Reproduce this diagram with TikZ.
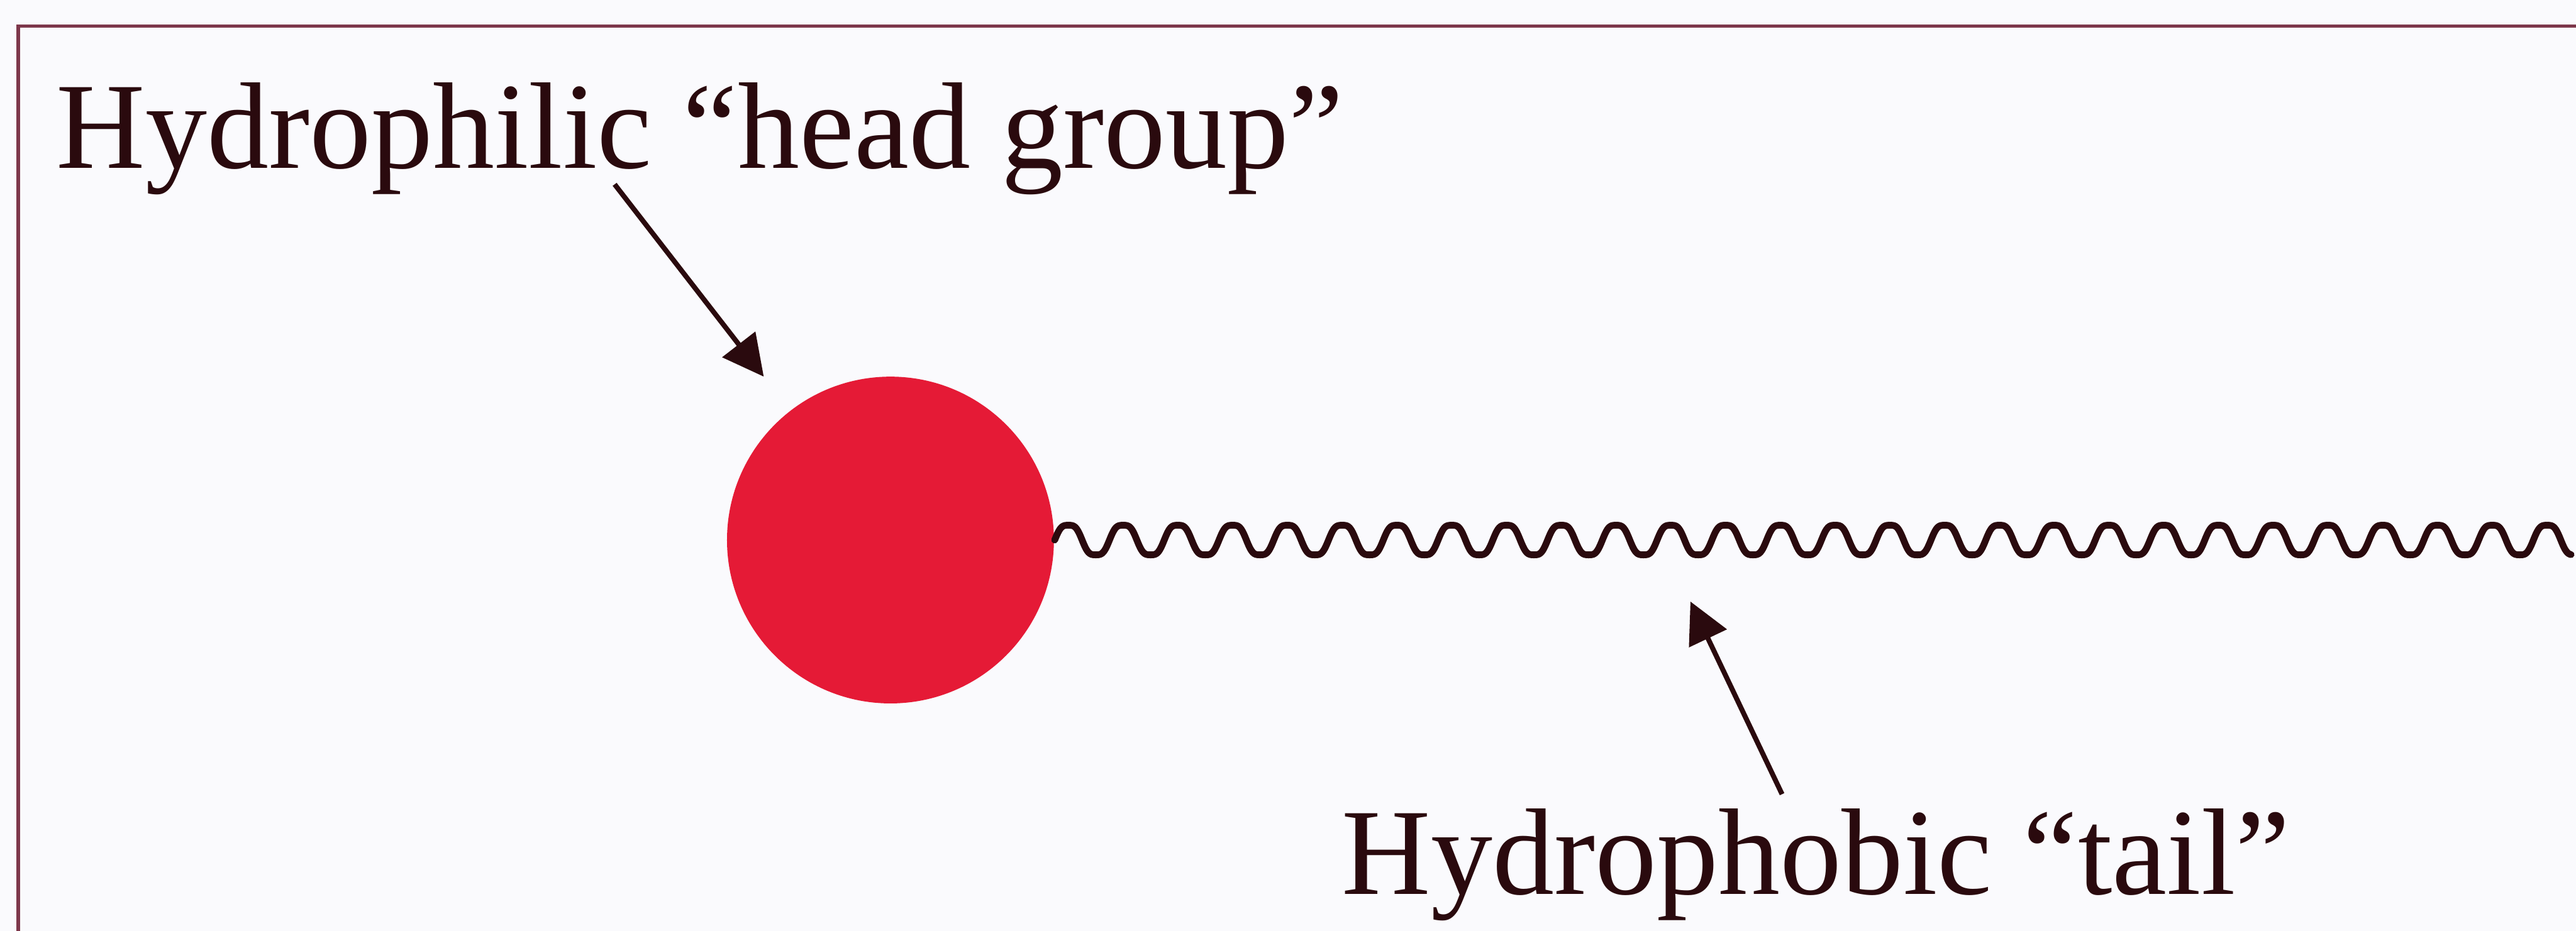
\documentclass[tikz,border=0pt]{standalone}
\usepackage{fontspec}
\setmainfont{Liberation Serif}
\usepackage{xcolor}
\usetikzlibrary{arrows.meta, calc}

\definecolor{inkbrown}{RGB}{42,10,14}
\definecolor{headred}{RGB}{229,26,54}
\definecolor{framemauve}{RGB}{125,55,75}
\definecolor{paper}{RGB}{250,250,253}

\begin{document}
\begin{tikzpicture}[
    tagtext/.style={inner sep=0, anchor=base west, text=inkbrown, font=\fontsize{30.9}{37}\selectfont},
    pointer/.style={-{Triangle[length=0.36cm, width=0.36cm]}, inkbrown, line width=1.25pt},
    tailline/.style={inkbrown, line width=1.7pt, line cap=round, line join=round}
]
    % 画布与边框
    \fill[paper] (0, 0) rectangle (22.695, 8.205);
    \useasboundingbox (0, 0) rectangle (22.695, 8.205);
    \draw[framemauve, line width=0.9pt] (0.16, 0) -- (0.16, 7.975) -- (22.695, 7.975);

    % 亲水头部
    \node[circle, fill=headred, minimum size=2.88cm, inner sep=0] (head) at (7.845, 3.445) {};

    % 疏水尾部
    \coordinate (tailend) at (22.65, 3.445);
    \begin{scope}[shift={(head.east)}]
        \draw[tailline] plot[domain=0:27.7, samples=1400, smooth]
            ({\x*0.4825}, {0.145*(1.3*sin(\x*360) - 0.4*sin(\x*360)^3)});
    \end{scope}

    % 标注
    \node[tagtext] (philic) at (0.49, 6.72) {Hydrophilic “head group”};
    \node[tagtext] (phobic) at (11.815, 0.325) {Hydrophobic “tail”};

    % 箭头
    \coordinate (philic-foot) at (5.415, 6.58);
    \coordinate (phobic-foot) at (15.7, 1.205);
    \coordinate (tail-mid) at ($(head.east)!0.4!(tailend)$);
    \draw[pointer, shorten >=0.375cm] (philic-foot) -- (head);
    \draw[pointer, shorten >=0.6cm] (phobic-foot) -- (tail-mid);
\end{tikzpicture}
\end{document}
